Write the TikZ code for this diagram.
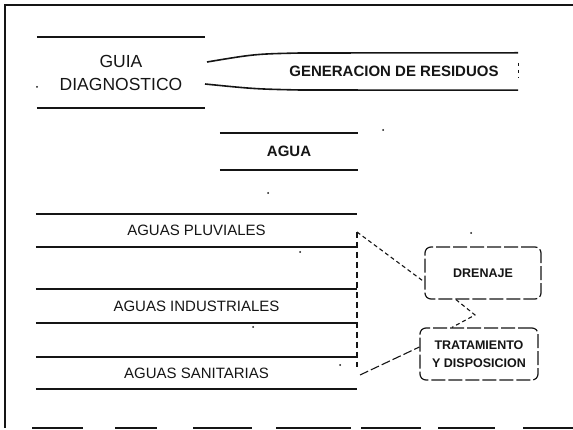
\documentclass[tikz,border=0pt]{standalone}
\usepackage{fontspec}
\setmainfont{Liberation Sans}
\definecolor{ink}{HTML}{151515}
\begin{document}
\begin{tikzpicture}[x=1pt,y=-1pt,
  rule/.style={draw=ink, line width=1.6pt},
  frameline/.style={draw=ink, line width=2pt},
  lbl/.style={inner sep=0pt, text=ink, font=\fontsize{15}{18}\selectfont},
  blbl/.style={inner sep=0pt, text=ink, font=\bfseries\fontsize{15}{18}\selectfont},
  dbox/.style={draw=ink, line width=1.2pt, rounded corners=6pt, dash pattern=on 14pt off 3pt,
    inner sep=0pt, text=ink, font=\bfseries\fontsize{12.5}{18}\selectfont, align=center,
    minimum height=52pt},
  dotconn/.style={draw=ink, line width=1.1pt, dash pattern=on 4pt off 3pt},
  longconn/.style={draw=ink, line width=1.1pt, dash pattern=on 9pt off 3pt},
  vdash/.style={draw=ink, line width=1.1pt, dash pattern=on 6pt off 4pt}]
\useasboundingbox (0,0) rectangle (573,430);

% frame
\draw[frameline] (573,5) -- (5,5) -- (5,428);
\foreach \a/\b in {32/83,115/157,193/252,276/351,361/421,438/495,523/573}
  \draw[frameline] (\a,428) -- (\b,428);

% GUIA DIAGNOSTICO
\node[lbl, font=\fontsize{17.5}{23}\selectfont, align=center,
      minimum width=168pt, minimum height=71pt] (guia) at (121,72.5) {GUIA\\DIAGNOSTICO};
\draw[rule] (guia.north west) -- (guia.north east);
\draw[rule] (guia.south west) -- (guia.south east);

% GENERACION DE RESIDUOS
\node[blbl, minimum width=248pt, minimum height=37pt] (gen) at (394,71.5) {GENERACION DE RESIDUOS};
\draw[rule] (gen.north east) -- (300,53) .. controls (255,54) .. (207,62);
\draw[rule] (gen.south east) -- (300,90) .. controls (255,89) .. (205,84);
\draw[draw=ink, line width=0.8pt, dash pattern=on 3pt off 4pt]
  ([yshift=-10pt]gen.north east) -- ([yshift=12pt]gen.south east);

% AGUA
\node[blbl, minimum width=138pt, minimum height=37pt] (agua) at (289,151.5) {AGUA};
\draw[rule] (agua.north west) -- (agua.north east);
\draw[rule] (agua.south west) -- (agua.south east);

% rows
\node[lbl, minimum width=321pt, minimum height=33pt] (pluv) at (196.5,230.5) {AGUAS PLUVIALES};
\node[lbl, minimum width=321pt, minimum height=34pt] (indus) at (196.5,306) {AGUAS INDUSTRIALES};
\node[lbl, minimum width=321pt, minimum height=32pt] (sanit) at (196.5,373) {AGUAS SANITARIAS};
\foreach \n in {pluv,indus,sanit}{
  \draw[rule] (\n.north west) -- (\n.north east);
  \draw[rule] (\n.south west) -- (\n.south east);
}

% right boxes
\node[dbox, minimum width=116pt] (dren) at (483,273) {DRENAJE};
\node[dbox, minimum width=118pt] (trat) at (479,354) {TRATAMIENTO\\Y DISPOSICION};

% connectors
\coordinate (vtop) at (357,232);
\coordinate (vbot) at (357,367);
\coordinate (sfrom) at (360,375);
\coordinate (bend) at (475,315);
\draw[vdash] (vtop) -- (vbot);
\draw[dotconn] (vtop) -- ([yshift=-9pt]dren.west);
\draw[longconn] (sfrom) -- ([yshift=7pt]trat.west);
\draw[dotconn] ([xshift=-27pt]dren.south) -- (bend) -- ([xshift=-27pt]trat.north);

% specks
\foreach \x/\y in {37/87,383/130,268/193,300/252,253/327,340/365,471/233}
  \fill[ink] (\x,\y) circle (1pt);
\end{tikzpicture}
\end{document}
